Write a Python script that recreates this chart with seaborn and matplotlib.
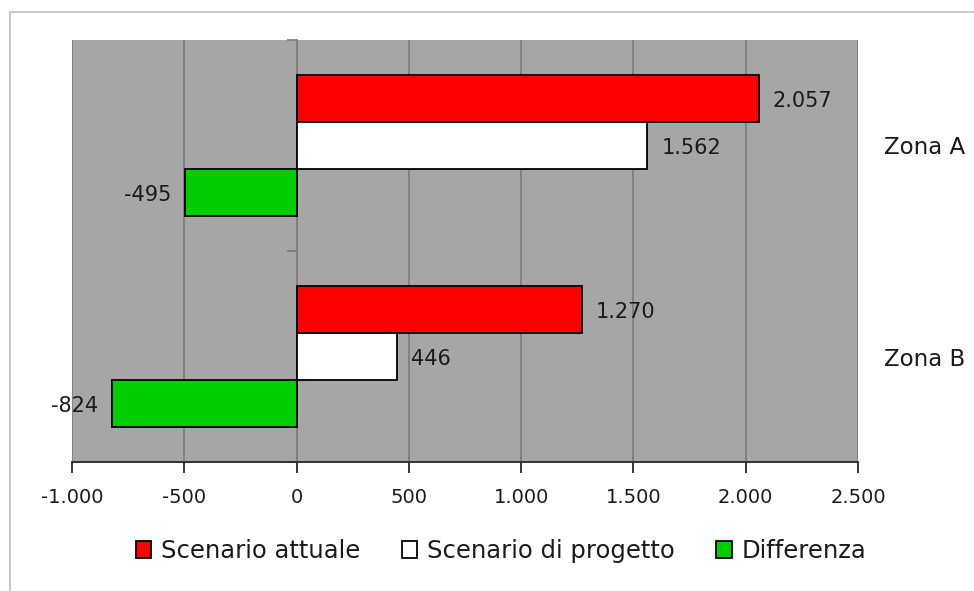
import matplotlib
matplotlib.use("Agg")
import matplotlib.pyplot as plt
from matplotlib.patches import Rectangle, Patch
from matplotlib.ticker import FixedLocator, FuncFormatter
import seaborn as sns
import pandas as pd

# Data
zone = ["Zona A", "Zona B"]
serie = ["Scenario attuale", "Scenario di progetto", "Differenza"]
scenario_attuale = [2057, 1270]
scenario_progetto = [1562, 446]
differenza = [-495, -824]
colori = ["#FF0000", "#FFFFFF", "#00CC00"]
x_ticks = [-1000, -500, 0, 500, 1000, 1500, 2000, 2500]

valori = {serie[0]: scenario_attuale, serie[1]: scenario_progetto, serie[2]: differenza}
df = pd.DataFrame(
    [(z, s, valori[s][i]) for s in serie for i, z in enumerate(zone)],
    columns=["zona", "serie", "valore"],
)


def it_num(v, _=None):
    return f"{int(round(v)):,}".replace(",", ".")


sns.set_theme(style="white")
plt.rcParams["font.family"] = ["DejaVu Sans"]
txt = "#1a1a1a"

fig = plt.figure(figsize=(9.74, 5.91), dpi=100)
W, H = 974, 591
# Chart frame
fig.patches.append(Rectangle((10 / W, -0.1), 1.2, 1 - 12 / H + 0.1, transform=fig.transFigure,
                             facecolor="none", edgecolor="#BFBFBF", linewidth=1.2, zorder=0))

ax = fig.add_axes([72 / W, 1 - 462 / H, (858 - 72) / W, (462 - 40) / H])
ax.set_facecolor("#A6A6A6")

sns.barplot(data=df, y="zona", x="valore", hue="serie", orient="h", hue_order=serie,
            order=zone, palette=colori, saturation=1, width=0.67, edgecolor="black",
            linewidth=1.3, ax=ax, legend=False, zorder=3)

ax.set_xlim(-1000, 2500)
ax.set_ylim(1.5, -0.5)
ax.xaxis.set_major_locator(FixedLocator(x_ticks))
ax.xaxis.set_major_formatter(FuncFormatter(it_num))
ax.grid(axis="x", color="#7F7F7F", linewidth=1.3, zorder=1)
ax.set_axisbelow(True)
ax.set_xlabel("")
ax.set_ylabel("")

# Spines: bottom axis line, vertical axis at zero
for side in ["top", "right"]:
    ax.spines[side].set_visible(False)
ax.spines["bottom"].set_color("#262626")
ax.spines["bottom"].set_linewidth(1.3)
ax.spines["left"].set_position(("data", 0))
ax.spines["left"].set_color("#7F7F7F")
ax.spines["left"].set_linewidth(1.3)

ax.tick_params(axis="x", direction="out", length=8, width=1.3, color="#262626",
               pad=11, labelsize=14, labelcolor=txt, bottom=True)

# Category labels on the right, boundary ticks on the zero axis
ax.set_yticks([0, 1])
ax.set_yticklabels(zone)
ax.yaxis.set_minor_locator(FixedLocator([-0.5, 0.5, 1.5]))
ax.tick_params(axis="y", which="major", left=False, right=False, labelleft=False,
               labelright=True, pad=13, labelsize=16.5, labelcolor=txt)
ax.tick_params(axis="y", which="minor", left=True, right=False, direction="out",
               length=7, width=1.3, color="#7F7F7F")

# Value labels
for bars in ax.containers:
    for rect in bars:
        v = rect.get_width()
        y = rect.get_y() + rect.get_height() / 2
        if v >= 0:
            ax.annotate(it_num(v), (v, y), xytext=(10, -2), textcoords="offset points",
                        ha="left", va="center", fontsize=15, color=txt)
        else:
            ax.annotate(it_num(v), (v, y), xytext=(-10, -2), textcoords="offset points",
                        ha="right", va="center", fontsize=15, color=txt)

handles = [Patch(facecolor=c, edgecolor="black", linewidth=1.3) for c in colori]
fig.legend(handles, serie, loc="center", bbox_to_anchor=(501 / W, 1 - 551 / H), ncol=3,
           frameon=False, fontsize=17.5, handlelength=0.65, handleheight=0.65,
           handletextpad=0.4, columnspacing=1.7, labelcolor=txt)

fig.savefig("out.png", dpi=100)
